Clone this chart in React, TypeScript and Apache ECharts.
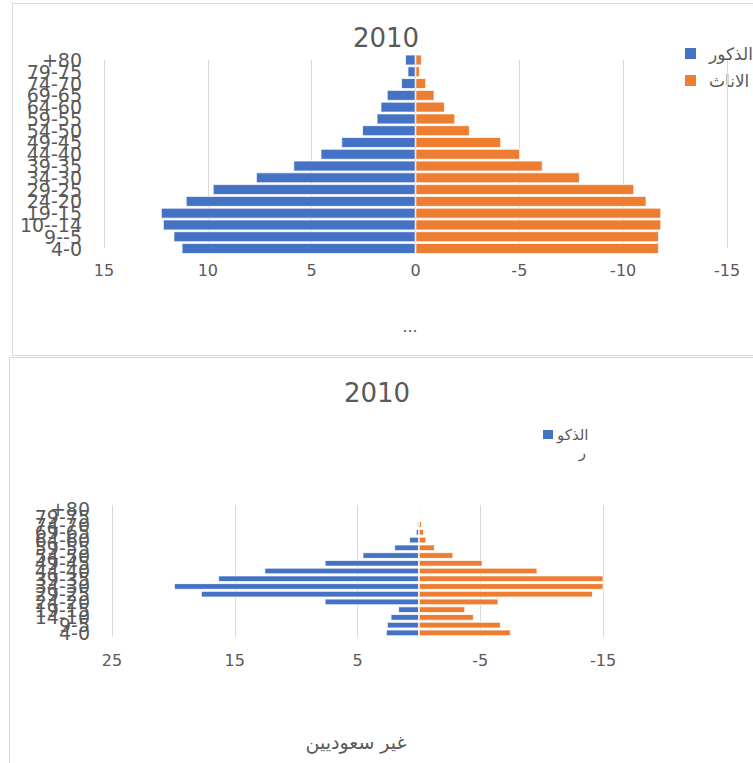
import React, { useEffect, useRef } from "react";
import * as echarts from "echarts";

const FONT = "DejaVu Sans";
const TEXT = "#595959";
const GRID_LINE = "#D9D9D9";
const BLUE = "#4472C4";
const ORANGE = "#ED7D31";

// Saudi population pyramid (top chart), top-to-bottom order
const ageGroupsSaudi = ["+80", "79-75", "74-70", "69-65", "64-60", "59-55", "54-50", "49-45", "44-40", "39-35", "34-30", "29-25", "24-20", "19-15", "10--14", "9--5", "4-0"];
const maleSaudi = [0.5, 0.38, 0.69, 1.38, 1.68, 1.87, 2.57, 3.57, 4.57, 5.88, 7.68, 9.76, 11.06, 12.26, 12.16, 11.65, 11.26];
const femaleSaudi = [-0.3, -0.21, -0.51, -0.91, -1.41, -1.91, -2.61, -4.12, -5.03, -6.12, -7.91, -10.53, -11.12, -11.83, -11.83, -11.72, -11.72];

// Non-Saudi population pyramid (bottom chart), top-to-bottom order
const ageGroupsNonSaudi = ["+80", "79-75", "74-70", "69-65", "64-60", "59-55", "54-50", "49-45", "44-40", "39-35", "34-30", "29-25", "24-20", "19-15", "14-10", "9-5", "4-0"];
const maleNonSaudi = [0.02, 0.05, 0.14, 0.24, 0.79, 2.0, 4.58, 7.67, 12.58, 16.34, 19.94, 17.75, 7.67, 1.68, 2.3, 2.6, 2.68];
const femaleNonSaudi = [-0.1, -0.1, -0.24, -0.41, -0.6, -1.3, -2.8, -5.18, -9.65, -15.1, -15.1, -14.17, -6.48, -3.77, -4.47, -6.67, -7.48];

const MALE = "الذكور";
const FEMALE = "الاناث";
const MALE_WRAP_1 = "الذكو";
const MALE_WRAP_2 = "ر";
const TITLE = "2010";
const CAPTION = "غير سعوديين";

export default function App() {
  const ref = useRef<HTMLDivElement>(null);

  useEffect(() => {
    if (!ref.current) return;
    const chart = echarts.init(ref.current, null, { renderer: "svg" });

    const yAxisBase = (data: string[], boundaryGap: boolean) => ({
      type: "category",
      data,
      inverse: true,
      boundaryGap,
      axisLine: { show: false },
      axisTick: { show: false },
      splitLine: { show: false },
      axisLabel: { interval: 0, fontSize: 19, color: TEXT, fontFamily: FONT, margin: 22 },
    });

    const xAxisBase = (min: number, max: number, interval: number, margin: number) => ({
      type: "value",
      min,
      max,
      interval,
      inverse: true,
      axisLine: { show: false },
      axisTick: { show: false },
      splitLine: { show: true, lineStyle: { color: GRID_LINE, width: 1 } },
      axisLabel: { fontSize: 16, color: TEXT, fontFamily: FONT, margin },
    });

    const barItem = (color: string) => ({ color, borderColor: "#ffffff", borderWidth: 0.75 });

    const text = (str: string, x: number, y: number, size: number, align = "center") => ({
      type: "text",
      x,
      y,
      silent: true,
      style: {
        text: str,
        fill: TEXT,
        fontSize: size,
        fontFamily: FONT,
        align,
        verticalAlign: "middle",
        textAlign: align,
        textVerticalAlign: "middle",
      },
    });

    const box = (x: number, y: number, w: number, h: number, color: string) => ({
      type: "rect",
      silent: true,
      shape: { x, y, width: w, height: h },
      style: { fill: color },
    });

    chart.setOption({
      animation: false,
      backgroundColor: "#ffffff",
      grid: [
        { left: 104, right: 26, top: 60, height: 188.5 },
        { left: 112, right: 150, top: 505.3, height: 131.4 },
      ],
      xAxis: [
        { ...xAxisBase(-15, 15, 5, 14), gridIndex: 0 },
        { ...xAxisBase(-15, 25, 10, 16), gridIndex: 1 },
      ],
      yAxis: [
        { ...yAxisBase(ageGroupsSaudi, false), gridIndex: 0 },
        { ...yAxisBase(ageGroupsNonSaudi, true), gridIndex: 1 },
      ],
      series: [
        {
          type: "bar",
          name: MALE,
          xAxisIndex: 0,
          yAxisIndex: 0,
          data: maleSaudi,
          barGap: "-100%",
          barCategoryGap: "9%",
          itemStyle: barItem(BLUE),
        },
        {
          type: "bar",
          name: FEMALE,
          xAxisIndex: 0,
          yAxisIndex: 0,
          data: femaleSaudi,
          barGap: "-100%",
          barCategoryGap: "9%",
          itemStyle: barItem(ORANGE),
        },
        {
          type: "bar",
          name: MALE,
          xAxisIndex: 1,
          yAxisIndex: 1,
          data: maleNonSaudi,
          barGap: "-100%",
          barCategoryGap: "17%",
          itemStyle: barItem(BLUE),
        },
        {
          type: "bar",
          name: FEMALE,
          xAxisIndex: 1,
          yAxisIndex: 1,
          data: femaleNonSaudi,
          barGap: "-100%",
          barCategoryGap: "17%",
          itemStyle: barItem(ORANGE),
        },
      ],
      graphic: [
        {
          type: "rect",
          silent: true,
          shape: { x: 12.5, y: 3.5, width: 800, height: 352 },
          style: { fill: "none", stroke: GRID_LINE, lineWidth: 1 },
        },
        {
          type: "rect",
          silent: true,
          shape: { x: 9.5, y: 357.5, width: 800, height: 500 },
          style: { fill: "none", stroke: GRID_LINE, lineWidth: 1 },
        },
        text(TITLE, 386, 37.5, 26),
        text(TITLE, 377, 392.5, 26),
        text("...", 410, 326, 16),
        // top legend
        box(685, 48, 11, 11, BLUE),
        text(MALE, 709, 53.5, 17, "left"),
        box(685, 75, 11, 11, ORANGE),
        text(FEMALE, 709, 80.5, 17, "left"),
        // bottom legend (wrapped label)
        box(543, 430, 10, 9, BLUE),
        text(MALE_WRAP_1, 557, 434.5, 15, "left"),
        text(MALE_WRAP_2, 586, 453, 15, "right"),
        text(CAPTION, 356, 742, 19),
      ],
    });

    return () => chart.dispose();
  }, []);

  return (
    <div
      ref={ref}
      style={{ position: "absolute", left: 0, top: 0, width: 753, height: 763 }}
    />
  );
}
